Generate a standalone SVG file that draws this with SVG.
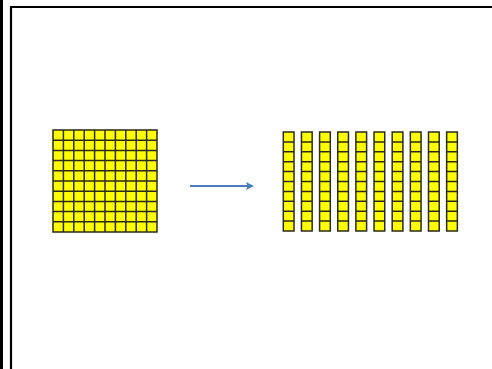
<svg xmlns="http://www.w3.org/2000/svg" width="492" height="369" viewBox="0 0 492 369">
<defs>
<style>
.cell{fill:#ffff00;stroke:#2a2a1a;stroke-width:1.5}
.grid{fill:none;stroke:#2a2a1a;stroke-width:1.5}
.frame{fill:none;stroke:#000;stroke-width:2.2}
.conn{stroke:#4a7ebb;stroke-width:2.2;fill:none}
</style>
<marker id="ah" markerWidth="8" markerHeight="8" refX="6" refY="4" orient="auto" markerUnits="userSpaceOnUse">
<path d="M0,0 L8,4 L0,8 L1.5,4 Z" fill="#4a7ebb"/>
</marker>
</defs>
<rect x="0" y="0" width="492" height="369" fill="#fff"/>
<rect x="0" y="0" width="3" height="369" fill="#000"/>
<path class="frame" d="M11,369 V7 H492"/>
<g id="square">
<rect class="cell" x="53" y="130" width="104" height="102"/>
<path class="grid" d="M63.4,130V232M73.8,130V232M84.2,130V232M94.6,130V232M105,130V232M115.4,130V232M125.8,130V232M136.2,130V232M146.6,130V232M53,140.2H157M53,150.4H157M53,160.6H157M53,170.8H157M53,181H157M53,191.2H157M53,201.4H157M53,211.6H157M53,221.8H157"/>
</g>
<g id="columns">
<g id="col1" transform="translate(283.3,132)"><rect class="cell" width="10.7" height="99"/><path class="grid" d="M0,9.9H10.7M0,19.8H10.7M0,29.7H10.7M0,39.6H10.7M0,49.5H10.7M0,59.4H10.7M0,69.3H10.7M0,79.2H10.7M0,89.1H10.7"/></g>
<g id="col2" transform="translate(301.45,132)"><rect class="cell" width="10.7" height="99"/><path class="grid" d="M0,9.9H10.7M0,19.8H10.7M0,29.7H10.7M0,39.6H10.7M0,49.5H10.7M0,59.4H10.7M0,69.3H10.7M0,79.2H10.7M0,89.1H10.7"/></g>
<g id="col3" transform="translate(319.6,132)"><rect class="cell" width="10.7" height="99"/><path class="grid" d="M0,9.9H10.7M0,19.8H10.7M0,29.7H10.7M0,39.6H10.7M0,49.5H10.7M0,59.4H10.7M0,69.3H10.7M0,79.2H10.7M0,89.1H10.7"/></g>
<g id="col4" transform="translate(337.75,132)"><rect class="cell" width="10.7" height="99"/><path class="grid" d="M0,9.9H10.7M0,19.8H10.7M0,29.7H10.7M0,39.6H10.7M0,49.5H10.7M0,59.4H10.7M0,69.3H10.7M0,79.2H10.7M0,89.1H10.7"/></g>
<g id="col5" transform="translate(355.9,132)"><rect class="cell" width="10.7" height="99"/><path class="grid" d="M0,9.9H10.7M0,19.8H10.7M0,29.7H10.7M0,39.6H10.7M0,49.5H10.7M0,59.4H10.7M0,69.3H10.7M0,79.2H10.7M0,89.1H10.7"/></g>
<g id="col6" transform="translate(374.05,132)"><rect class="cell" width="10.7" height="99"/><path class="grid" d="M0,9.9H10.7M0,19.8H10.7M0,29.7H10.7M0,39.6H10.7M0,49.5H10.7M0,59.4H10.7M0,69.3H10.7M0,79.2H10.7M0,89.1H10.7"/></g>
<g id="col7" transform="translate(392.2,132)"><rect class="cell" width="10.7" height="99"/><path class="grid" d="M0,9.9H10.7M0,19.8H10.7M0,29.7H10.7M0,39.6H10.7M0,49.5H10.7M0,59.4H10.7M0,69.3H10.7M0,79.2H10.7M0,89.1H10.7"/></g>
<g id="col8" transform="translate(410.35,132)"><rect class="cell" width="10.7" height="99"/><path class="grid" d="M0,9.9H10.7M0,19.8H10.7M0,29.7H10.7M0,39.6H10.7M0,49.5H10.7M0,59.4H10.7M0,69.3H10.7M0,79.2H10.7M0,89.1H10.7"/></g>
<g id="col9" transform="translate(428.5,132)"><rect class="cell" width="10.7" height="99"/><path class="grid" d="M0,9.9H10.7M0,19.8H10.7M0,29.7H10.7M0,39.6H10.7M0,49.5H10.7M0,59.4H10.7M0,69.3H10.7M0,79.2H10.7M0,89.1H10.7"/></g>
<g id="col10" transform="translate(446.65,132)"><rect class="cell" width="10.7" height="99"/><path class="grid" d="M0,9.9H10.7M0,19.8H10.7M0,29.7H10.7M0,39.6H10.7M0,49.5H10.7M0,59.4H10.7M0,69.3H10.7M0,79.2H10.7M0,89.1H10.7"/></g>
</g>
<g id="connectors">
<line class="conn" x1="190" y1="186" x2="252" y2="186" marker-end="url(#ah)"/>
</g>
</svg>
